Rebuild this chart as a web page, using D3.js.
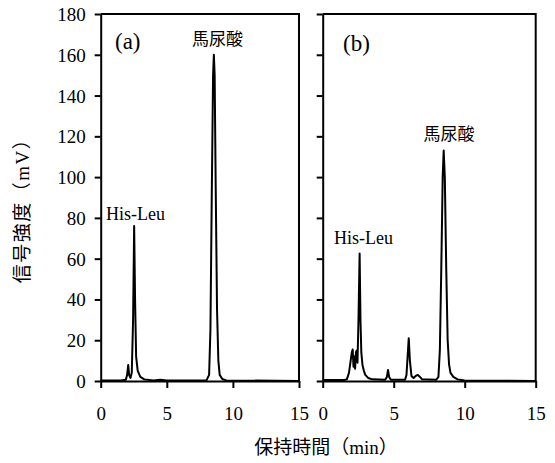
<!DOCTYPE html>
<html>
<head>
<meta charset="utf-8">
<script src="https://cdn.jsdelivr.net/npm/d3@7"></script>
<style>
  body { margin: 0; background: #fff; }
  svg text { fill: #000; font-family: "Liberation Serif", "Noto Sans CJK JP", serif; }
  .axis path, .axis line { stroke: #000; stroke-width: 2; }
  .trace { fill: none; stroke: #000; stroke-width: 2; stroke-linejoin: round; }
</style>
</head>
<body>
<script>
// retention time (min), signal (mV)
var traceA = [
  [0, 0.3], [1.5, 0.3], [1.9, 0.6], [2.0, 3], [2.08, 7.8], [2.15, 3], [2.25, 1.5],
  [2.35, 4], [2.45, 30], [2.53, 76], [2.6, 40], [2.68, 12], [2.8, 5], [3.0, 2],
  [3.3, 0.8], [4.0, 0.3], [4.5, 0.6], [5.0, 0.3], [8.0, 0.3], [8.2, 3], [8.3, 25],
  [8.4, 90], [8.5, 150], [8.56, 160], [8.62, 150], [8.7, 95], [8.8, 35], [8.9, 10],
  [9.0, 3], [9.2, 1], [9.5, 0.3], [15, 0]
];
var traceB = [
  [0, 0.5], [1.5, 0.5], [1.7, 0.8], [1.85, 4], [1.95, 9], [2.05, 14], [2.11, 15.5],
  [2.17, 7], [2.22, 12], [2.28, 6], [2.34, 14], [2.39, 15], [2.45, 9], [2.52, 30],
  [2.6, 62.5], [2.66, 30], [2.72, 14], [2.8, 8], [2.9, 5], [3.0, 3], [3.2, 1.5],
  [3.5, 0.8], [4.4, 0.6], [4.52, 2], [4.6, 5.4], [4.68, 2], [4.8, 0.6], [5.8, 0.6],
  [5.9, 3], [5.98, 12], [6.06, 21], [6.14, 10], [6.25, 2.5], [6.4, 1.5], [6.55, 2.5],
  [6.7, 3], [6.85, 2], [7.0, 0.8], [8.0, 0.6], [8.15, 2], [8.25, 15], [8.35, 55],
  [8.45, 100], [8.52, 113], [8.6, 100], [8.7, 55], [8.8, 20], [8.9, 8], [9.0, 4],
  [9.2, 2], [9.5, 0.8], [10, 0.3], [15, 0]
];
var xTicks = [0, 5, 10, 15];
var yTicks = [0, 20, 40, 60, 80, 100, 120, 140, 160, 180];
var panelNames = ["(a)", "(b)"];
// peak labels: [time, mV, text] (anchor point of the label)
var labelsA = [[0.4, 79, "His-Leu"], [6.9, 165, "馬尿酸"]];
var labelsB = [[0.8, 67, "His-Leu"], [7.1, 118, "馬尿酸"]];
var xTitle = "保持時間（min）";
var yTitle = "信号強度（mV）";

var svg = d3.select("body").append("svg")
  .attr("width", 555)
  .attr("height", 463);

var y = d3.scaleLinear().domain([0, 180]).range([381, 14]);

var panels = [
  { data: traceA, labels: labelsA, name: panelNames[0], left: 100.7, right: 299, nameX: 115, nameY: 49 },
  { data: traceB, labels: labelsB, name: panelNames[1], left: 322.7, right: 535.7, nameX: 343, nameY: 51 }
];

panels.forEach(function(p, i) {
  var x = d3.scaleLinear().domain([0, 15]).range([p.left, p.right]);

  var yAxis = d3.axisLeft(y).tickValues(yTicks).tickSize(6).tickSizeOuter(0);
  if (i > 0) yAxis.tickFormat("");
  var gy = svg.append("g")
    .attr("class", "axis")
    .attr("transform", "translate(" + p.left + ",0)")
    .call(yAxis);
  gy.selectAll("text").attr("x", -15).attr("dy", "0.34em").style("font-size", "19px");

  var xAxis = d3.axisBottom(x).tickValues(xTicks).tickSize(7).tickSizeOuter(0);
  var gx = svg.append("g")
    .attr("class", "axis")
    .attr("transform", "translate(0," + y(0) + ")")
    .call(xAxis);
  gx.selectAll("text").attr("y", 26).style("font-size", "19px");

  // top and right frame
  svg.append("path")
    .attr("d", "M" + p.left + "," + y(180) + "H" + p.right + "V" + y(0))
    .attr("fill", "none")
    .attr("stroke", "#000")
    .attr("stroke-width", 2);

  var line = d3.line()
    .x(function(d) { return x(d[0]); })
    .y(function(d) { return y(d[1]); });

  svg.append("path")
    .datum(p.data)
    .attr("class", "trace")
    .attr("d", line);

  svg.append("text")
    .attr("x", p.nameX)
    .attr("y", p.nameY)
    .style("font-size", "23px")
    .text(p.name);

  svg.selectAll(null)
    .data(p.labels)
    .enter().append("text")
    .attr("x", function(d) { return x(d[0]); })
    .attr("y", function(d) { return y(d[1]); })
    .style("font-size", function(d) { return d[2] === "His-Leu" ? "18px" : "17px"; })
    .text(function(d) { return d[2]; });
});

svg.append("text")
  .attr("x", 326)
  .attr("y", 454)
  .attr("text-anchor", "middle")
  .style("font-size", "19px")
  .text(xTitle);

svg.append("text")
  .attr("transform", "translate(29,206) rotate(-90)")
  .attr("text-anchor", "middle")
  .style("font-size", "19px")
  .style("letter-spacing", "1.5px")
  .text(yTitle);
</script>
</body>
</html>
